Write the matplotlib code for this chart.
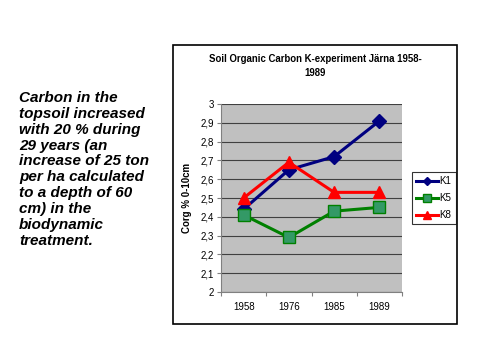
import matplotlib
matplotlib.use("Agg")
import matplotlib.pyplot as plt
from matplotlib.patches import Rectangle

years = ["1958", "1976", "1985", "1989"]
k1 = [2.44, 2.65, 2.72, 2.91]
k5 = [2.41, 2.29, 2.43, 2.45]
k8 = [2.50, 2.69, 2.53, 2.53]
yticks = [2.0, 2.1, 2.2, 2.3, 2.4, 2.5, 2.6, 2.7, 2.8, 2.9, 3.0]

plt.rcParams['font.family'] = ['Liberation Sans', 'DejaVu Sans']

W, H = 480, 360
fig = plt.figure(figsize=(4.8, 3.6), dpi=100)

# chart frame
fig.patches.append(Rectangle((173 / W, 1 - 324 / H), (457 - 173) / W, (324 - 45) / H,
                             transform=fig.transFigure, fill=False, edgecolor='black', lw=1.2))

ax = fig.add_axes([221 / W, 1 - 292 / H, (402 - 221) / W, (292 - 104) / H])
ax.set_facecolor('#C0C0C0')
x = range(len(years))
ax.plot(x, k1, color='#000080', lw=2.2, marker='D', ms=7, label='K1', zorder=3)
ax.plot(x, k5, color='#008000', lw=2.2, marker='s', ms=9, mfc='#339966', mec='#008000', label='K5', zorder=3)
ax.plot(x, k8, color='#FF0000', lw=2.2, marker='^', ms=9, label='K8', zorder=3)

ax.set_xlim(-0.5, 3.5)
ax.set_ylim(2, 3)
ax.set_yticks(yticks)
ax.set_yticklabels([("%g" % v).replace('.', ',') for v in yticks], fontsize=7)
ax.set_xticks([-0.5, 0.5, 1.5, 2.5, 3.5])
ax.set_xticklabels([])
ax.set_xticks(list(x), minor=True)
ax.set_xticklabels(years, minor=True, fontsize=7)
ax.tick_params(axis='x', which='minor', length=0, pad=7)
ax.tick_params(axis='x', which='major', length=3, direction='out', color='#808080')
ax.tick_params(axis='y', length=3, color='#808080', pad=2)
ax.yaxis.grid(True, color='#404040', lw=0.8)
ax.set_axisbelow(True)
for s in ['top', 'right']:
    ax.spines[s].set_visible(False)
for s in ['left', 'bottom']:
    ax.spines[s].set_color('#808080')

ax.set_ylabel('Corg % 0-10cm', fontsize=7, fontweight='bold', labelpad=6)

fig.text(315 / W, 1 - 66 / H, 'Soil Organic Carbon K-experiment Järna 1958-\n1989',
         ha='center', va='center', fontsize=6.9, fontweight='bold', linespacing=1.6)

leg = fig.legend(loc='upper left', bbox_to_anchor=(412 / W, 1 - 172 / H), fontsize=7,
                 frameon=True, fancybox=False, edgecolor='black', handlelength=2.2,
                 markerscale=0.6, borderpad=0.45, labelspacing=0.7, handletextpad=0.2,
                 borderaxespad=0)
leg.get_frame().set_linewidth(0.8)

fig.text(19 / W, 1 - 91 / H,
         "Carbon in the\ntopsoil increased\nwith 20 % during\n29 years (an\nincrease of 25 ton\n"
         "per ha calculated\nto a depth of 60\ncm) in the\nbiodynamic\ntreatment.",
         ha='left', va='top', fontsize=11, fontweight='bold', style='italic', linespacing=1.17)

fig.savefig('out.png', dpi=100)
